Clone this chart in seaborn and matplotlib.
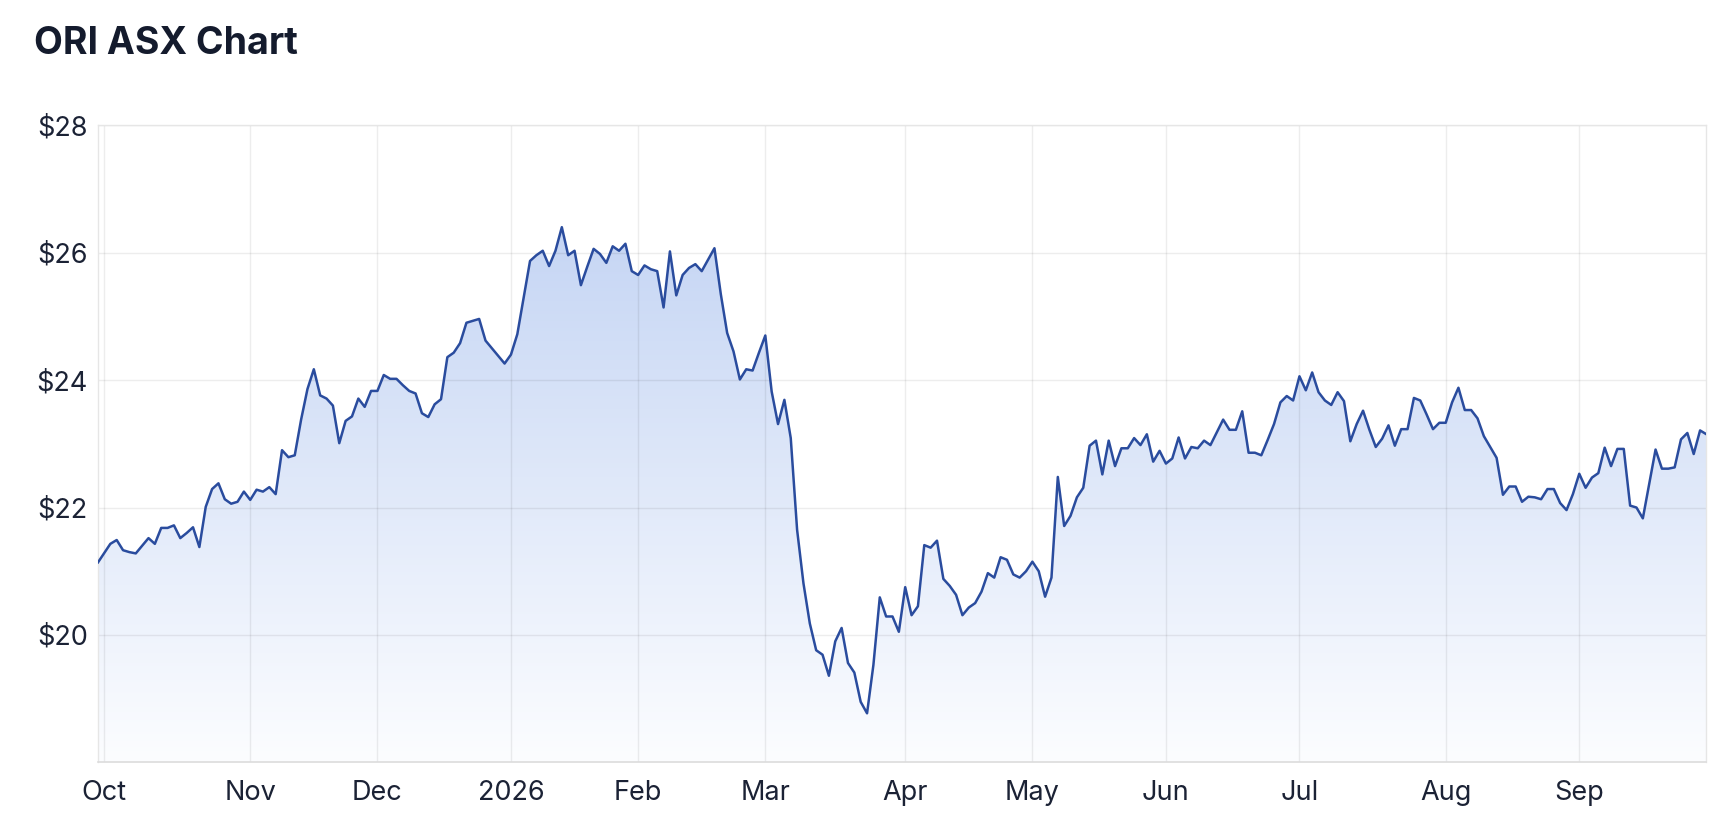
import numpy as np
import pandas as pd
import matplotlib
matplotlib.use("Agg")
import matplotlib.pyplot as plt
from matplotlib.colors import LinearSegmentedColormap
from matplotlib.ticker import FixedLocator, FuncFormatter
import seaborn as sns

# ORI closing prices, one per ASX trading day (30 Sep 2025 -> 29 Sep 2026)
sep_2025 = [21.13]
oct_2025 = [21.28, 21.43, 21.49, 21.33, 21.30, 21.28, 21.40, 21.52, 21.43, 21.68,
            21.68, 21.72, 21.52, 21.60, 21.69, 21.38, 22.01, 22.29, 22.38, 22.13,
            22.06, 22.09, 22.25]
nov_2025 = [22.12, 22.28, 22.25, 22.32, 22.21, 22.90, 22.79, 22.82, 23.38, 23.86,
            24.17, 23.76, 23.71, 23.60, 23.01, 23.36, 23.43, 23.71, 23.58, 23.83]
dec_2025 = [23.83, 24.08, 24.02, 24.02, 23.92, 23.83, 23.79, 23.48, 23.42, 23.62,
            23.70, 24.36, 24.43, 24.58, 24.90, 24.93, 24.96, 24.62, 24.50, 24.38,
            24.26]
jan_2026 = [24.40, 24.72, 25.30, 25.87, 25.96, 26.03, 25.79, 26.03, 26.40, 25.96,
            26.03, 25.49, 25.78, 26.06, 25.98, 25.84, 26.10, 26.03, 26.14, 25.71]
feb_2026 = [25.65, 25.80, 25.74, 25.71, 25.14, 26.02, 25.33, 25.65, 25.76, 25.82,
            25.71, 25.89, 26.07, 25.35, 24.74, 24.45, 24.01, 24.17, 24.15, 24.43]
mar_2026 = [24.70, 23.82, 23.31, 23.69, 23.09, 21.65, 20.81, 20.18, 19.76, 19.69,
            19.36, 19.90, 20.11, 19.56, 19.41, 18.95, 18.77, 19.53, 20.59, 20.29,
            20.29, 20.05]
apr_2026 = [20.75, 20.31, 20.45, 21.41, 21.37, 21.48, 20.88, 20.77, 20.63, 20.31,
            20.43, 20.50, 20.68, 20.97, 20.90, 21.22, 21.18, 20.95, 20.90, 21.00]
may_2026 = [21.15, 21.00, 20.60, 20.90, 22.48, 21.71, 21.87, 22.16, 22.31, 22.97,
            23.05, 22.52, 23.05, 22.65, 22.93, 22.93, 23.09, 22.98, 23.15, 22.72,
            22.89]
jun_2026 = [22.69, 22.77, 23.10, 22.77, 22.95, 22.93, 23.05, 22.98, 23.18, 23.38,
            23.22, 23.22, 23.51, 22.86, 22.86, 22.82, 23.06, 23.31, 23.65, 23.75,
            23.68]
jul_2026 = [24.06, 23.84, 24.12, 23.81, 23.68, 23.61, 23.81, 23.67, 23.04, 23.31,
            23.52, 23.22, 22.95, 23.08, 23.29, 22.97, 23.23, 23.23, 23.72, 23.68,
            23.46, 23.23, 23.33]
aug_2026 = [23.33, 23.65, 23.88, 23.53, 23.53, 23.40, 23.12, 22.95, 22.78, 22.20,
            22.33, 22.33, 22.09, 22.17, 22.16, 22.13, 22.29, 22.29, 22.07, 21.96,
            22.21]
sep_2026 = [22.53, 22.31, 22.47, 22.54, 22.94, 22.65, 22.92, 22.92, 22.03, 22.00,
            21.83, 22.37, 22.91, 22.61, 22.61, 22.63, 23.07, 23.17, 22.84, 23.21,
            23.15]

asx_holidays = ["2025-12-25", "2025-12-26", "2026-01-01", "2026-01-26",
                "2026-04-03", "2026-04-06", "2026-06-08"]
y_ticks = [20, 22, 24, 26, 28]

prices = (sep_2025 + oct_2025 + nov_2025 + dec_2025 + jan_2026 + feb_2026 + mar_2026
          + apr_2026 + may_2026 + jun_2026 + jul_2026 + aug_2026 + sep_2026)
days = pd.bdate_range("2025-09-30", "2026-09-29")
days = days[~days.isin(pd.to_datetime(asx_holidays))]
assert len(days) == len(prices), (len(days), len(prices))

df = pd.DataFrame({"date": days, "price": prices})
df["idx"] = np.arange(len(df))

# month ticks on the first trading day of each month
first = df.groupby(df.date.dt.to_period("M")).head(1).iloc[1:]
tick_pos = first.idx.tolist()
tick_lab = [d.strftime("%Y") if d.month == 1 else d.strftime("%b") for d in first.date]

sns.set_theme(style="white")
plt.rcParams["font.family"] = ["Inter", "DejaVu Sans"]

fig = plt.figure(figsize=(17.34, 8.4), dpi=100)
ax = fig.add_axes([0.0563, 0.0924, 0.9278, 0.7585])

# gradient area under the line
cmap = LinearSegmentedColormap.from_list("fade", ["#fcfdff", "#bbcef2"])
grad = np.linspace(0, 1, 256).reshape(-1, 1)
im = ax.imshow(grad, aspect="auto", cmap=cmap, origin="lower",
               extent=[0, len(df) - 1, 18, 28], zorder=1)
poly = ax.fill_between(df.idx, df.price, 18, color="none", lw=0)
im.set_clip_path(poly.get_paths()[0], transform=ax.transData)

sns.lineplot(data=df, x="idx", y="price", color="#2a4c9e", linewidth=1.8,
             ax=ax, zorder=3)

ax.set_xlim(0, len(df) - 1)
ax.set_ylim(18, 28)
ax.xaxis.set_major_locator(FixedLocator(tick_pos))
ax.set_xticklabels(tick_lab)
ax.yaxis.set_major_locator(FixedLocator(y_ticks))
ax.yaxis.set_major_formatter(FuncFormatter(lambda v, p: f"${v:.0f}"))
ax.set_xlabel("")
ax.set_ylabel("")

ax.set_axisbelow("line")
ax.grid(True, color="#000000", alpha=0.07, lw=1)
for side in ["top", "right", "left"]:
    ax.spines[side].set_color("#e6e6e6")
    ax.spines[side].set_linewidth(1)
ax.spines["bottom"].set_color("#dcdcdc")
ax.spines["bottom"].set_linewidth(1.2)
ax.tick_params(axis="both", length=0, labelsize=19.5, colors="#1b2235")
ax.tick_params(axis="x", pad=12.5)
ax.tick_params(axis="y", pad=7)

fig.text(33.7 / 1734, 1 - 53.5 / 840, "ORI ASX Chart", fontsize=27,
         fontweight="bold", color="#141b2d", va="baseline", ha="left")

fig.savefig("out.png", dpi=100, facecolor="white")
